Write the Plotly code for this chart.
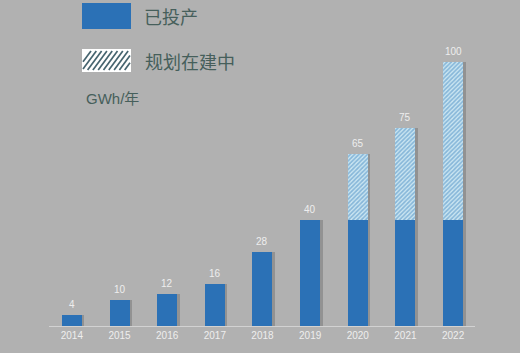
import plotly.graph_objects as go

years = ["2014", "2015", "2016", "2017", "2018", "2019", "2020", "2021", "2022"]
installed = [4, 10, 12, 16, 28, 40, 40, 40, 40]
planned = [0, 0, 0, 0, 0, 0, 25, 35, 60]
totals = [4, 10, 12, 16, 28, 40, 65, 75, 100]

xs = list(range(len(years)))
W = 0.42
px_unit = 47.65

BG = "#b1b1b1"
BLUE = "#2b71b6"
TXT = "#465f5b"
CJK = "Noto Sans CJK SC"

fig = go.Figure()

# soft shadow behind bars
fig.add_trace(go.Bar(
    x=xs, y=totals, base=0, width=W, offset=-W / 2 + 2.5 / px_unit,
    marker=dict(color="rgba(80,80,80,0.32)", line=dict(width=0)),
    hoverinfo="skip", showlegend=False))

fig.add_trace(go.Bar(
    x=xs, y=installed, base=0, width=W,
    marker=dict(color=BLUE, line=dict(width=0)),
    name="已投产", showlegend=False))

fig.add_trace(go.Bar(
    x=xs, y=planned, base=installed, width=W,
    marker=dict(color="#a9d0e4", line=dict(width=0),
                pattern=dict(shape="/", fgcolor="#3f86bf", bgcolor="#cde7f2",
                             size=3, solidity=0.55)),
    name="规划在建中", showlegend=False))

for x, v in zip(xs, totals):
    fig.add_annotation(x=x, y=v, text=str(v), showarrow=False, yanchor="bottom",
                       yshift=3,
                       font=dict(family="Arial, Liberation Sans", size=10, color="#eeeeee"))

fig.update_layout(
    width=520, height=353,
    margin=dict(l=49, r=45, t=40, b=27),
    paper_bgcolor=BG, plot_bgcolor=BG,
    barmode="overlay", bargap=0,
    xaxis=dict(range=[-0.48, 8.46], tickvals=xs, ticktext=years,
               showgrid=False, zeroline=False, showline=True,
               linecolor="#d2d2d2", linewidth=1, ticks="",
               tickfont=dict(family="Arial, Liberation Sans", size=10, color="#eeeeee")),
    yaxis=dict(range=[0, 108.3], visible=False, showgrid=False, zeroline=False),
)

# manual legend
fig.add_shape(type="rect", xref="paper", yref="paper",
              x0=(82 - 49) / 426, x1=(131 - 49) / 426,
              y0=(326 - 29) / 286, y1=(326 - 3) / 286,
              fillcolor=BLUE, line=dict(width=0))
fig.add_shape(type="rect", xref="paper", yref="paper",
              x0=(82 - 49) / 426, x1=(131 - 49) / 426,
              y0=(326 - 72) / 286, y1=(326 - 49) / 286,
              fillcolor="#ffffff", line=dict(width=0))
for i in range(11):
    xa = 77 + i * 5.3
    xb = xa + 14
    ya, yb = 70, 51
    x0, x1 = max(xa, 83), min(xb, 130)
    if x1 <= x0:
        continue
    t0 = (x0 - xa) / (xb - xa)
    t1 = (x1 - xa) / (xb - xa)
    fig.add_shape(type="line", xref="paper", yref="paper",
                  x0=(x0 - 49) / 426, x1=(x1 - 49) / 426,
                  y0=(326 - (ya + (yb - ya) * t0)) / 286,
                  y1=(326 - (ya + (yb - ya) * t1)) / 286,
                  line=dict(color="#46646f", width=1.7))

fig.add_annotation(xref="paper", yref="paper", x=(142 - 49) / 426, y=(326 - 16) / 286,
                   text="已投产", showarrow=False, xanchor="left", yanchor="middle",
                   font=dict(family=CJK, size=18, color=TXT))
fig.add_annotation(xref="paper", yref="paper", x=(143 - 49) / 426, y=(326 - 61) / 286,
                   text="规划在建中", showarrow=False, xanchor="left", yanchor="middle",
                   font=dict(family=CJK, size=18, color=TXT))
fig.add_annotation(xref="paper", yref="paper", x=(84 - 49) / 426, y=(326 - 99) / 286,
                   text="GWh/年", showarrow=False, xanchor="left", yanchor="middle",
                   font=dict(family="Arial, Liberation Sans, " + CJK, size=15, color=TXT))

fig.write_html("out.html")
